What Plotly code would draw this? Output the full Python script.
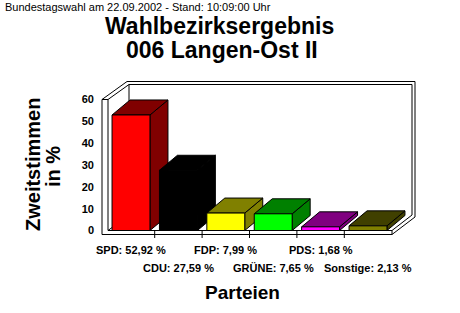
import plotly.graph_objects as go

# ---------------- data ----------------
parties = ["SPD", "CDU", "FDP", "GRÜNE", "PDS", "Sonstige"]
shares = [52.92, 27.59, 7.99, 7.65, 1.68, 2.13]
front_colors = ["#FF0000", "#000000", "#FFFF00", "#00FF00", "#FF00FF", "#808000"]
shade_colors = ["#800000", "#000000", "#808000", "#008000", "#800080", "#404000"]
y_ticks = [0, 10, 20, 30, 40, 50, 60]
subtitle = "Bundestagswahl am 22.09.2002 - Stand: 10:09:00 Uhr"
title_lines = ["Wahlbezirksergebnis", "006 Langen-Ost II"]
y_title_lines = ["Zweitstimmen", "in %"]
x_title = "Parteien"

# ---------------- geometry ----------------
W, H = 460, 313
L, R, T, B = 100, 40, 76, 73
PLOT_W = W - L - R
PLOT_H = H - T - B
SX = 47.4      # px per category
SY = 2.183     # px per percent
X0PX = 131 - L
Y0PX = 230.5 - T
x_range = [-X0PX / SX, (PLOT_W - X0PX) / SX]
y_range = [-(PLOT_H - Y0PX) / SY, Y0PX / SY]


def px2x(px):
    return (px - L - X0PX) / SX


def py2y(py):
    return (T + Y0PX - py) / SY


def px2paper(px):
    return (px - L) / PLOT_W


def py2paper(py):
    return (T + PLOT_H - py) / PLOT_H


FONT = "Liberation Sans, Arial, sans-serif"
HW = 0.4            # half bar width (categories)
DX = 18 / SX        # depth offset x
DY = 15 / SY        # depth offset y

fig = go.Figure()

for i, v in enumerate(shares):
    xl, xr = i - HW, i + HW
    # side face
    fig.add_trace(go.Scatter(
        x=[xr, xr + DX, xr + DX, xr, xr],
        y=[0, DY, v + DY, v, 0],
        fill="toself", fillcolor=shade_colors[i], mode="lines",
        line=dict(color="black", width=1), hoverinfo="skip", showlegend=False))
    # top face
    fig.add_trace(go.Scatter(
        x=[xl, xr, xr + DX, xl + DX, xl],
        y=[v, v, v + DY, v + DY, v],
        fill="toself", fillcolor=shade_colors[i], mode="lines",
        line=dict(color="black", width=1), hoverinfo="skip", showlegend=False))
    # front face
    fig.add_trace(go.Scatter(
        x=[xl, xr, xr, xl, xl],
        y=[0, 0, v, v, 0],
        fill="toself", fillcolor=front_colors[i], mode="lines",
        line=dict(color="black", width=1), hoverinfo="skip", showlegend=False))

# ---------------- frame (walls & floor) ----------------
segs_px = [
    # left wall
    ((102, 234.5), (102, 99.5)),
    ((108, 230.5), (108, 99.5)),
    ((102, 99.5), (108, 99.5)),
    ((102, 99.5), (127, 81.5)),
    ((108, 99.5), (129, 84.5)),
    # back wall
    ((127, 81.5), (415, 81.5)),
    ((129, 84.5), (412, 84.5)),
    ((129, 84.5), (129, 215)),
    ((415, 81.5), (415, 217)),
    ((412, 84.5), (412, 215)),
    # floor
    ((102, 234.5), (392, 234.5)),
    ((108, 230.5), (392, 230.5)),
    ((392, 230.5), (392, 234.5)),
    ((392, 234.5), (415, 217)),
    ((392, 230.5), (412, 215)),
    ((108, 230.5), (129, 215)),
]
shapes = []
for (a, b) in segs_px:
    shapes.append(dict(type="line", xref="x", yref="y", layer="below",
                       x0=px2x(a[0]), y0=py2y(a[1]), x1=px2x(b[0]), y1=py2y(b[1]),
                       line=dict(color="black", width=1)))
# category separators on floor front
for i in range(len(parties) - 1):
    shapes.append(dict(type="line", xref="x", yref="y", layer="below",
                       x0=i + 0.5, x1=i + 0.5, y0=py2y(230.5), y1=py2y(238),
                       line=dict(color="black", width=1)))

# ---------------- annotations ----------------
ann = []
for i, (p, v) in enumerate(zip(parties, shares)):
    txt = f"<b>{p}: {v:.2f} %</b>".replace(".", ",")
    ann.append(dict(x=i, xref="x", y=py2paper(250 if i % 2 == 0 else 268), yref="paper",
                    text=txt, showarrow=False, xanchor="center", yanchor="middle",
                    font=dict(family=FONT, size=11, color="black")))

ann.append(dict(x=px2paper(3), xref="paper", y=py2paper(7), yref="paper",
                text=subtitle, showarrow=False, xanchor="left", yanchor="middle",
                font=dict(family=FONT, size=11, color="black")))
ann.append(dict(x=px2paper(219), xref="paper", y=py2paper(26), yref="paper",
                text=f"<b>{title_lines[0]}</b>", showarrow=False, xanchor="center", yanchor="middle",
                font=dict(family=FONT, size=23, color="black")))
ann.append(dict(x=px2paper(222), xref="paper", y=py2paper(50), yref="paper",
                text=f"<b>{title_lines[1]}</b>", showarrow=False, xanchor="center", yanchor="middle",
                font=dict(family=FONT, size=23, color="black")))
ann.append(dict(x=px2paper(33), xref="paper", y=py2paper(165), yref="paper",
                text=f"<b>{y_title_lines[0]}</b>", showarrow=False, textangle=-90,
                xanchor="center", yanchor="middle",
                font=dict(family=FONT, size=20, color="black")))
ann.append(dict(x=px2paper(53), xref="paper", y=py2paper(167), yref="paper",
                text=f"<b>{y_title_lines[1]}</b>", showarrow=False, textangle=-90,
                xanchor="center", yanchor="middle",
                font=dict(family=FONT, size=20, color="black")))
ann.append(dict(x=px2paper(242), xref="paper", y=py2paper(292), yref="paper",
                text=f"<b>{x_title}</b>", showarrow=False, xanchor="center", yanchor="middle",
                font=dict(family=FONT, size=19, color="black")))

fig.update_layout(
    width=W, height=H,
    margin=dict(l=L, r=R, t=T, b=B, pad=0),
    paper_bgcolor="white", plot_bgcolor="white",
    showlegend=False,
    xaxis=dict(range=x_range, showgrid=False, zeroline=False, showline=False,
               showticklabels=False, ticks="", fixedrange=True),
    yaxis=dict(range=y_range, showgrid=False, zeroline=False, showline=False,
               tickmode="array", tickvals=y_ticks,
               ticktext=[f"<b>{t}</b>" for t in y_ticks],
               ticks="", ticklabelstandoff=5,
               tickfont=dict(family=FONT, size=11, color="black"), fixedrange=True),
    shapes=shapes,
    annotations=ann,
)

fig.write_html("out.html", config={"displayModeBar": False})
